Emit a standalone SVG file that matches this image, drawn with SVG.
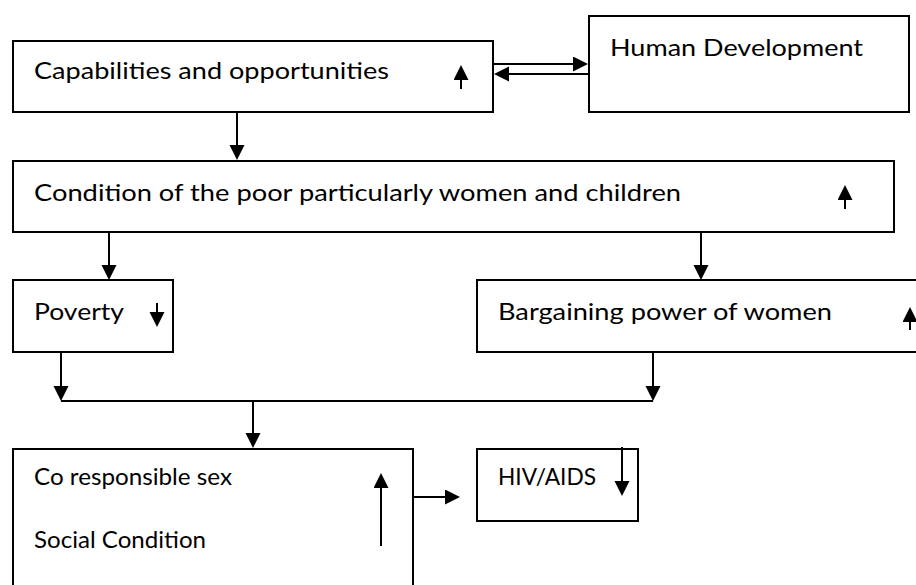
<svg xmlns="http://www.w3.org/2000/svg" width="916" height="585" viewBox="0 0 916 585">
<style>
.box{fill:#fff;stroke:#000;stroke-width:2}
.t{font-family:Lato,"Open Sans","Liberation Sans",sans-serif;font-size:23px;fill:#000}
.c{fill:none;stroke:#000;stroke-width:2}
</style>
<defs>
<marker id="ah" markerUnits="userSpaceOnUse" markerWidth="16" markerHeight="16" refX="13" refY="7.5" orient="auto">
<path d="M0,0 L15,7.5 L0,15 z" fill="#000"/>
</marker>
</defs>
<rect width="916" height="585" fill="#fff"/>
<g id="cap">
<rect class="box" x="13" y="41" width="480" height="71"/>
<text class="t" x="34" y="79" textLength="355" lengthAdjust="spacingAndGlyphs">Capabilities and opportunities</text>
<line class="c" x1="461" y1="89" x2="461" y2="67" marker-end="url(#ah)"/>
</g>
<g id="hd">
<rect class="box" x="589" y="16" width="320" height="96"/>
<text class="t" x="610" y="56" textLength="253" lengthAdjust="spacingAndGlyphs">Human Development</text>
</g>
<g id="cond">
<rect class="box" x="13" y="161" width="881" height="71"/>
<text class="t" x="34" y="201" textLength="647" lengthAdjust="spacingAndGlyphs">Condition of the poor particularly women and children</text>
<line class="c" x1="845" y1="209" x2="845" y2="187" marker-end="url(#ah)"/>
</g>
<g id="pov">
<rect class="box" x="13" y="280" width="160" height="72"/>
<text class="t" x="34" y="320" textLength="90" lengthAdjust="spacingAndGlyphs">Poverty</text>
<line class="c" x1="157" y1="303" x2="157" y2="325" marker-end="url(#ah)"/>
</g>
<g id="barg">
<rect class="box" x="477" y="280" width="460" height="72"/>
<text class="t" x="498" y="320" textLength="334" lengthAdjust="spacingAndGlyphs">Bargaining power of women</text>
<line class="c" x1="910" y1="330" x2="910" y2="309" marker-end="url(#ah)"/>
</g>
<g id="co">
<rect class="box" x="13" y="449" width="400" height="160"/>
<text class="t" x="34" y="485" textLength="198" lengthAdjust="spacingAndGlyphs">Co responsible sex</text>
<text class="t" x="34" y="548" textLength="172" lengthAdjust="spacingAndGlyphs">Social Condition</text>
<line class="c" x1="381" y1="546" x2="381" y2="475" marker-end="url(#ah)"/>
</g>
<g id="hiv">
<rect class="box" x="477" y="449" width="161" height="72"/>
<text class="t" x="498" y="485" textLength="98" lengthAdjust="spacingAndGlyphs">HIV/AIDS</text>
<line class="c" x1="622" y1="447" x2="622" y2="494" marker-end="url(#ah)"/>
</g>
<g id="connectors">
<line class="c" x1="493" y1="64" x2="586" y2="64" marker-end="url(#ah)"/>
<line class="c" x1="589" y1="74" x2="496" y2="74" marker-end="url(#ah)"/>
<line class="c" x1="237" y1="112" x2="237" y2="158" marker-end="url(#ah)"/>
<line class="c" x1="109" y1="232" x2="109" y2="278" marker-end="url(#ah)"/>
<line class="c" x1="701" y1="232" x2="701" y2="278" marker-end="url(#ah)"/>
<line class="c" x1="61" y1="352" x2="61" y2="399" marker-end="url(#ah)"/>
<line class="c" x1="653" y1="352" x2="653" y2="399" marker-end="url(#ah)"/>
<line class="c" x1="61" y1="401" x2="653" y2="401"/>
<line class="c" x1="253" y1="401" x2="253" y2="446" marker-end="url(#ah)"/>
<line class="c" x1="413" y1="497" x2="458" y2="497" marker-end="url(#ah)"/>
</g>
</svg>
